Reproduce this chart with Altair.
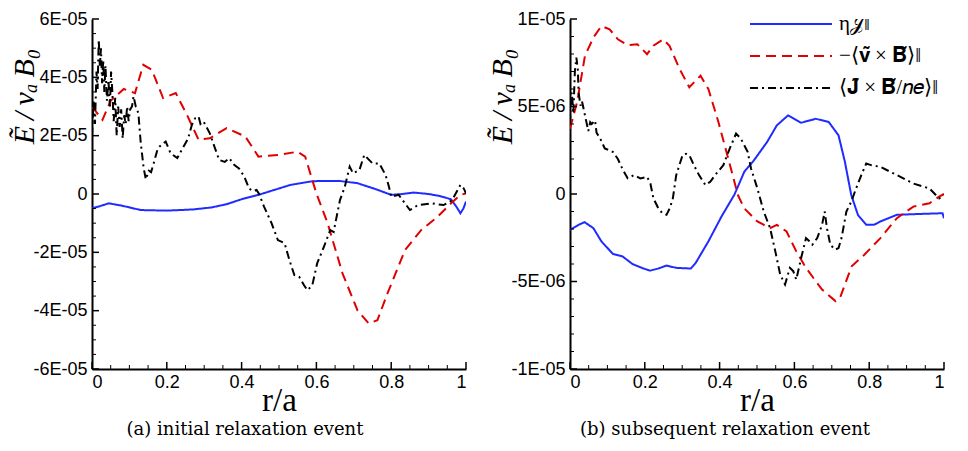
import altair as alt
import pandas as pd

# ---------------- series / style ----------------
SERIES = ["η𝒥‖", "−⟨𝐯̃ × 𝐁̃⟩‖", "⟨𝐉̃ × 𝐁̃/𝑛𝑒⟩‖"]
COLORS = ["#1f2bff", "#e00000", "#000000"]
DASHES = [[1, 0], [10, 6], [8, 4, 2, 4]]

X_TICKS = [0, 0.2, 0.4, 0.6, 0.8, 1]
X_LABELS = ["0", "0.2", "0.4", "0.6", "0.8", "1"]
A_Y_TICKS = [-6e-5, -4e-5, -2e-5, 0, 2e-5, 4e-5, 6e-5]
A_Y_LABELS = ["-6E-05", "-4E-05", "-2E-05", "0", "2E-05", "4E-05", "6E-05"]
B_Y_TICKS = [-1e-5, -5e-6, 0, 5e-6, 1e-5]
B_Y_LABELS = ["-1E-05", "-5E-06", "0", "5E-06", "1E-05"]

Y_TITLE = "Ẽ\u2009/\u2009vₐ\u2009B₀"
X_TITLE = "r/a"
CAPTION_A = "(a) initial relaxation event"
CAPTION_B = "(b) subsequent relaxation event"

# ---------------- panel (a) data (values in units of 1E-05) ----------------
a_blue_r = [0, 0.02, 0.045, 0.08, 0.13, 0.2, 0.27, 0.32, 0.36, 0.40, 0.445, 0.49, 0.53, 0.59,
            0.66, 0.71, 0.76, 0.80, 0.83, 0.86, 0.9, 0.93, 0.96, 0.975, 0.985, 0.993, 1.0]
a_blue_y = [-0.49, -0.42, -0.32, -0.40, -0.55, -0.57, -0.53, -0.46, -0.35, -0.18, -0.03, 0.15, 0.31, 0.44,
            0.45, 0.37, 0.16, -0.03, 0.0, 0.05, 0.0, -0.07, -0.18, -0.45, -0.66, -0.5, -0.26]

a_red_r = [0, 0.028, 0.05, 0.085, 0.115, 0.137, 0.16, 0.19, 0.224, 0.254, 0.285, 0.315, 0.36, 0.41,
           0.445, 0.50, 0.55, 0.57, 0.60, 0.63, 0.67, 0.71, 0.74, 0.763, 0.79, 0.837, 0.88, 0.924,
           0.96, 0.985, 1.0]
a_red_y = [3.0, 2.54, 3.2, 3.6, 3.46, 4.43, 4.26, 3.29, 3.46, 2.71, 1.86, 1.91, 2.26, 1.97,
           1.28, 1.34, 1.45, 1.28, 0.02, -1.0, -2.73, -3.99, -4.44, -4.33, -3.41, -1.92, -1.24, -0.78,
           -0.32, -0.03, 0.02]

a_black_r = [0, 0.004, 0.008, 0.012, 0.015, 0.018, 0.021, 0.024, 0.027, 0.030, 0.033, 0.036, 0.040,
             0.044, 0.048, 0.051, 0.054, 0.058, 0.062, 0.066, 0.070, 0.074, 0.078, 0.082, 0.086,
             0.090, 0.094, 0.098, 0.102, 0.107, 0.111, 0.117, 0.124, 0.130, 0.138, 0.144, 0.152,
             0.158, 0.166, 0.176, 0.187, 0.197, 0.21, 0.228, 0.245, 0.257, 0.267, 0.276, 0.285,
             0.29, 0.298, 0.315, 0.328, 0.34, 0.355, 0.367, 0.38, 0.393, 0.407, 0.42, 0.43, 0.44,
             0.446, 0.46, 0.48, 0.497, 0.515, 0.528, 0.541, 0.554, 0.567, 0.576, 0.589, 0.602,
             0.62, 0.637, 0.646, 0.663, 0.676, 0.689, 0.698, 0.715, 0.728, 0.75, 0.768, 0.785,
             0.794, 0.80, 0.82, 0.85, 0.872, 0.907, 0.94, 0.963, 0.985, 0.994, 1.0]
a_black_y = [2.0, 3.2, 2.4, 4.2, 3.6, 5.3, 4.4, 5.0, 3.8, 4.6, 3.5, 4.4, 3.2,
             3.9, 3.0, 4.2, 3.6, 2.5, 3.3, 2.0, 3.0, 2.3, 2.9, 1.9, 2.7,
             2.4, 3.0, 2.5, 2.9, 3.0, 3.35, 3.0, 2.77, 1.8, 0.9, 0.5, 0.8,
             0.75, 1.1, 1.57, 1.7, 1.8, 1.4, 1.23, 1.63, 1.9, 2.37, 2.6, 2.66,
             2.4, 2.49, 2.08, 1.6, 1.17, 1.1, 1.23, 1.0, 0.88, 0.6, 0.19, 0.1, 0.14,
             0.02, -0.43, -1.0, -1.58, -1.69, -2.27, -2.78, -2.84, -3.13, -3.30, -3.13, -2.38,
             -1.81, -1.24, -1.3, -0.21, 0.25, 0.94, 0.71, 0.82, 1.34, 1.05, 1.05, 0.65,
             0.25, -0.09, -0.03, -0.55, -0.38, -0.32, -0.38, -0.21, 0.31, 0.19, 0.02]

# ---------------- panel (b) data (values in units of 1E-06) ----------------
b_blue_r = [0, 0.023, 0.039, 0.0625, 0.084, 0.115, 0.14, 0.167, 0.197, 0.214, 0.236, 0.258, 0.284,
            0.323, 0.336, 0.37, 0.405, 0.44, 0.466, 0.492, 0.527, 0.553, 0.583, 0.618, 0.657,
            0.692, 0.718, 0.735, 0.752, 0.77, 0.792, 0.813, 0.83, 0.874, 0.935, 0.996, 1.0]
b_blue_y = [-2.05, -1.76, -1.61, -1.95, -2.71, -3.43, -3.56, -4.0, -4.26, -4.38, -4.26, -4.09, -4.22,
            -4.26, -3.94, -2.71, -1.29, -0.02, 1.27, 1.93, 2.97, 3.92, 4.49, 4.07, 4.3,
            4.11, 3.35, 1.84, -0.06, -1.2, -1.76, -1.76, -1.57, -1.19, -1.14, -1.1, -1.38]

b_red_r = [0, 0.019, 0.04, 0.0625, 0.084, 0.106, 0.128, 0.154, 0.18, 0.206, 0.223, 0.249, 0.266,
           0.293, 0.319, 0.349, 0.37, 0.397, 0.423, 0.449, 0.466, 0.501, 0.535, 0.553, 0.579,
           0.605, 0.631, 0.657, 0.674, 0.71, 0.722, 0.753, 0.787, 0.83, 0.874, 0.918, 0.961,
           0.987, 1.0]
b_red_y = [3.73, 5.25, 7.9, 8.94, 9.6, 9.41, 8.84, 8.5, 8.56, 7.99, 8.47, 8.84, 8.47,
           7.14, 6.1, 6.76, 6.0, 4.1, 2.03, -0.06, -0.82, -1.57, -1.95, -1.76, -2.14,
           -3.28, -4.22, -4.98, -5.46, -6.12, -5.93, -4.13, -3.47, -2.52, -1.38, -0.72, -0.53,
           -0.15, 0.0]

b_black_r = [0, 0.002, 0.005, 0.009, 0.013, 0.017, 0.021, 0.023, 0.028, 0.032, 0.04, 0.049, 0.054,
             0.058, 0.067, 0.071, 0.08, 0.093, 0.106, 0.115, 0.128, 0.141, 0.154, 0.171, 0.188,
             0.206, 0.215, 0.223, 0.236, 0.247, 0.258, 0.267, 0.275, 0.284, 0.301, 0.31, 0.319,
             0.33, 0.345, 0.362, 0.375, 0.388, 0.41, 0.427, 0.444, 0.457, 0.475, 0.484, 0.501,
             0.518, 0.535, 0.549, 0.562, 0.575, 0.588, 0.597, 0.605, 0.618, 0.631, 0.64, 0.648,
             0.661, 0.674, 0.681, 0.687, 0.696, 0.709, 0.718, 0.726, 0.739, 0.752, 0.765, 0.779,
             0.792, 0.805, 0.83, 0.874, 0.918, 0.961, 0.987, 1.0]
b_black_y = [4.0, 5.4, 5.8, 4.6, 7.0, 7.8, 7.1, 5.8, 5.05, 5.3, 4.5, 3.6, 4.1,
             4.0, 4.2, 3.5, 3.2, 2.6, 2.5, 2.4, 2.0, 1.4, 0.9, 1.08, 0.89,
             0.98, 0.6, -0.25, -0.81, -1.1, -1.19, -0.8, -0.25, 1.08, 2.22, 2.3, 2.22,
             1.7, 1.08, 0.51, 0.7, 1.08, 1.65, 2.59, 3.45, 3.16, 2.41, 1.46, 0.32,
             -1.0, -1.95, -3.28, -4.6, -5.17, -4.22, -4.41, -4.89, -3.66, -2.52, -2.7, -2.9,
             -2.52, -1.76, -1.0, -1.95, -2.9, -3.18, -3.09, -2.52, -1.0, -0.44, 0.32, 1.08,
             1.74, 1.65, 1.55, 1.08, 0.6, 0.32, -0.25, -0.06]


def build_frame(parts, unit):
    rows = []
    for name, rs, ys in parts:
        for r, y in zip(rs, ys):
            rows.append({"series": name, "r": r, "E": y * unit})
    return pd.DataFrame(rows)


df_a = build_frame([(SERIES[0], a_blue_r, a_blue_y),
                    (SERIES[1], a_red_r, a_red_y),
                    (SERIES[2], a_black_r, a_black_y)], 1e-5)
df_b = build_frame([(SERIES[0], b_blue_r, b_blue_y),
                    (SERIES[1], b_red_r, b_red_y),
                    (SERIES[2], b_black_r, b_black_y)], 1e-6)

X_MINOR = [k * 0.05 for k in range(21) if k % 4 != 0]
A_Y_MINOR = [k * 5e-6 for k in range(-12, 13) if k % 4 != 0]
B_Y_MINOR = [k * 1e-6 for k in range(-10, 11) if k % 5 != 0]


def label_expr(vals, labs, tol):
    parts = [f"abs(datum.value - ({v!r})) < {tol} ? '{l}'" for v, l in zip(vals, labs)]
    return " : ".join(parts) + " : ''"


W, H = 374, 350
TICK_FONT = "Liberation Sans"


def legend_layers():
    layers = []
    for i, (name, col, dash) in enumerate(zip(SERIES, COLORS, DASHES)):
        yy = 5 + 32 * i
        d = pd.DataFrame({"label": [name]})
        layers.append(alt.Chart(d).mark_rule(color=col, strokeDash=dash, strokeWidth=2).encode(
            x=alt.value(180), x2=alt.value(262), y=alt.value(yy)))
        layers.append(alt.Chart(d).mark_text(
            align="left", baseline="middle", font="Liberation Serif", fontSize=21, color="black",
            clip=True
        ).encode(text="label:N", x=alt.value(269), y=alt.value(yy)))
    return layers


def panel(df, yticks, ylabels, yminor, caption, caption_x, show_legend):
    xs = alt.Scale(domain=[0, 1], nice=False, zero=False)
    ys = alt.Scale(domain=[yticks[0], yticks[-1]], nice=False, zero=False)
    color = alt.Color("series:N", scale=alt.Scale(domain=SERIES, range=COLORS), legend=None)
    dash = alt.StrokeDash("series:N", scale=alt.Scale(domain=SERIES, range=DASHES), legend=None)

    xaxis = alt.Axis(values=X_TICKS, labelExpr=label_expr(X_TICKS, X_LABELS, 1e-6),
                     ticks=False, tickSize=0, grid=False, domainColor="black", domainWidth=2,
                     labelFont=TICK_FONT, labelFontSize=18, labelColor="black", labelPadding=4,
                     labelFlush=True, title=X_TITLE, titleFont="Liberation Serif",
                     titleFontSize=33, titleFontWeight="normal", titleColor="black",
                     titleY=41, titleBaseline="alphabetic")
    yaxis = alt.Axis(values=yticks, labelExpr=label_expr(yticks, ylabels, 1e-9),
                     ticks=False, tickSize=0, grid=False, domainColor="black", domainWidth=2,
                     labelFont=TICK_FONT, labelFontSize=18, labelColor="black", labelPadding=5,
                     labelFlush=False, title=Y_TITLE, titleFont="Liberation Serif",
                     titleFontStyle="italic", titleFontWeight="normal", titleFontSize=30,
                     titleColor="black", titleX=-68, titleY=77, titleAngle=270,
                     titleAlign="center", titleBaseline="middle")

    lines = alt.Chart(df).mark_line(strokeWidth=2, clip=True).encode(
        x=alt.X("r:Q", scale=xs, axis=xaxis),
        y=alt.Y("E:Q", scale=ys, axis=yaxis),
        color=color, strokeDash=dash,
        order=alt.Order("r:Q"),
    )

    xmaj = alt.Chart(pd.DataFrame({"r": X_TICKS})).mark_rule(color="black", strokeWidth=1.5).encode(
        x=alt.X("r:Q", scale=xs, axis=xaxis), y=alt.value(H), y2=alt.value(H - 7))
    xmin = alt.Chart(pd.DataFrame({"r": X_MINOR})).mark_rule(color="black", strokeWidth=1).encode(
        x=alt.X("r:Q", scale=xs, axis=xaxis), y=alt.value(H), y2=alt.value(H - 4))
    ymaj = alt.Chart(pd.DataFrame({"E": yticks})).mark_rule(color="black", strokeWidth=1.5).encode(
        y=alt.Y("E:Q", scale=ys, axis=yaxis), x=alt.value(0), x2=alt.value(7))
    ymin = alt.Chart(pd.DataFrame({"E": yminor})).mark_rule(color="black", strokeWidth=1).encode(
        y=alt.Y("E:Q", scale=ys, axis=yaxis), x=alt.value(0), x2=alt.value(4))
    cap = alt.Chart(pd.DataFrame({"c": [caption]})).mark_text(
        font="DejaVu Serif", fontSize=18, align="center", baseline="alphabetic", color="black"
    ).encode(text="c:N", x=alt.value(caption_x), y=alt.value(416))

    layers = [lines, xmaj, xmin, ymaj, ymin, cap]
    if show_legend:
        layers += legend_layers()
    return alt.layer(*layers).properties(width=W, height=H)


pa = panel(df_a, A_Y_TICKS, A_Y_LABELS, A_Y_MINOR, CAPTION_A, 153, False)
pb = panel(df_b, B_Y_TICKS, B_Y_LABELS, B_Y_MINOR, CAPTION_B, 155, True)

chart = alt.hconcat(pa, pb, spacing=18).properties(
    padding={"left": 0, "top": 1, "right": 0, "bottom": 2}
).configure_view(stroke="transparent")

chart.save("out.html", embed_options={"renderer": "svg", "actions": False})
